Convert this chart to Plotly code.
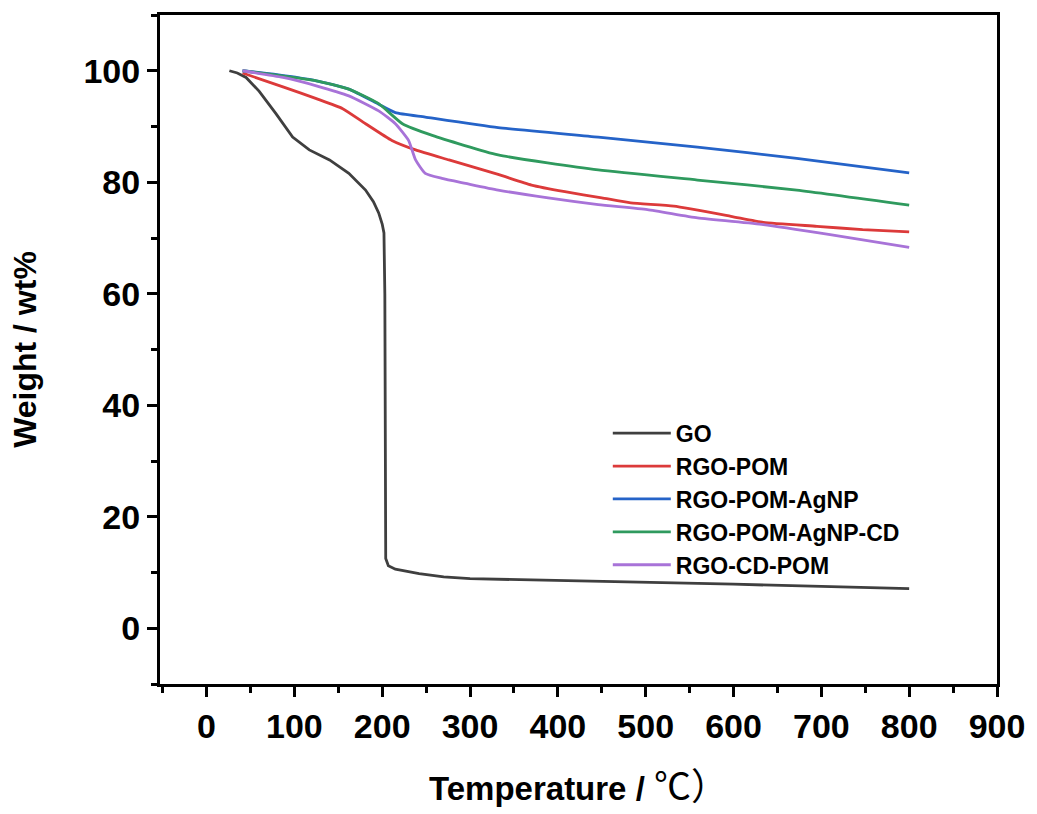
import plotly.graph_objects as go

go_T = [26, 35, 45, 60, 79, 98, 117, 140, 162, 181, 190, 196, 200, 202, 203, 203.5, 204, 207, 215, 242, 270, 300, 400, 500, 600, 700, 800]
go_W = [100, 99.6, 98.8, 96.3, 92.3, 88.1, 85.8, 84.0, 81.6, 78.6, 76.5, 74.5, 72.5, 70.9, 60, 30, 12.5, 11.2, 10.6, 9.8, 9.2, 8.9, 8.6, 8.3, 7.9, 7.5, 7.1]

pom_T = [41, 87, 125, 155, 181, 211, 238, 276, 332, 370, 408, 450, 483, 532, 597, 634, 695, 747, 800]
pom_W = [99.6, 97.1, 95.0, 93.2, 90.5, 87.5, 85.8, 84.0, 81.4, 79.5, 78.3, 77.2, 76.3, 75.7, 73.9, 72.8, 72.1, 71.5, 71.1]

agnp_T = [41, 80, 125, 162, 196, 215, 249, 332, 446, 559, 672, 800]
agnp_W = [100, 99.3, 98.2, 96.7, 94.0, 92.5, 91.7, 89.8, 88.1, 86.3, 84.3, 81.7]

agnpcd_T = [41, 80, 125, 162, 196, 223, 257, 332, 446, 559, 672, 800]
agnpcd_W = [100, 99.2, 98.2, 96.7, 94.1, 90.5, 88.4, 84.9, 82.2, 80.4, 78.6, 75.9]

cdpom_T = [41, 87, 125, 162, 196, 215, 230, 238, 249, 268, 295, 332, 389, 446, 502, 559, 634, 710, 800]
cdpom_W = [100, 98.8, 97.3, 95.5, 92.8, 90.5, 87.5, 84.0, 81.6, 80.7, 79.8, 78.6, 77.2, 76.0, 75.1, 73.6, 72.4, 70.6, 68.3]

names = ["GO", "RGO-POM", "RGO-POM-AgNP", "RGO-POM-AgNP-CD", "RGO-CD-POM"]
colors = ["#3f3f3f", "#dc3a3a", "#2563c8", "#2f9a5e", "#a873d8"]
series = [(go_T, go_W), (pom_T, pom_W), (agnp_T, agnp_W), (agnpcd_T, agnpcd_W), (cdpom_T, cdpom_W)]

FONT = "Liberation Sans, Arial, sans-serif"

fig = go.Figure()
for name, color, (t, w) in zip(names, colors, series):
    shape = "linear" if name == "GO" else "spline"
    fig.add_trace(go.Scatter(x=t, y=w, mode="lines", name=name,
                             line=dict(color=color, width=2.8, shape=shape, smoothing=0.5)))

axis_common = dict(
    showline=True, linecolor="black", linewidth=3, mirror=True,
    ticks="outside", ticklen=10, tickwidth=3, tickcolor="black",
    showgrid=False, zeroline=False,
    tickfont=dict(family=FONT, size=34, color="black", weight="bold"),
)

fig.update_xaxes(
    range=[-53, 900], tickvals=[0, 100, 200, 300, 400, 500, 600, 700, 800, 900],
    minor=dict(ticks="outside", ticklen=6, tickwidth=3, tickcolor="black", dtick=50, tick0=0),
    title=dict(text="<b>Temperature / </b><span style=\"font-family:'Noto Sans CJK SC';font-weight:normal;font-size:37px\">℃）</span>",
               font=dict(family=FONT, size=33, color="black"), standoff=34),
    **axis_common,
)
fig.update_yaxes(
    range=[-10, 110], tickvals=[0, 20, 40, 60, 80, 100],
    minor=dict(ticks="outside", ticklen=6, tickwidth=3, tickcolor="black", dtick=10, tick0=0),
    title=dict(text="<b>Weight / wt%</b>", font=dict(family=FONT, size=32, color="black"), standoff=38),
    **axis_common,
)

fig.update_layout(
    width=1037, height=814,
    margin=dict(l=160, r=36, t=13, b=122),
    plot_bgcolor="white", paper_bgcolor="white",
    showlegend=True,
    legend=dict(x=0.535, y=0.407, xanchor="left", yanchor="top",
                bgcolor="rgba(0,0,0,0)", borderwidth=0, itemwidth=58,
                font=dict(family=FONT, size=23, color="black", weight="bold"),
                tracegroupgap=0),
)

fig.write_html("out.html", config={"displayModeBar": False},
               post_script="document.body.style.margin='0';document.body.style.overflow='hidden';")
